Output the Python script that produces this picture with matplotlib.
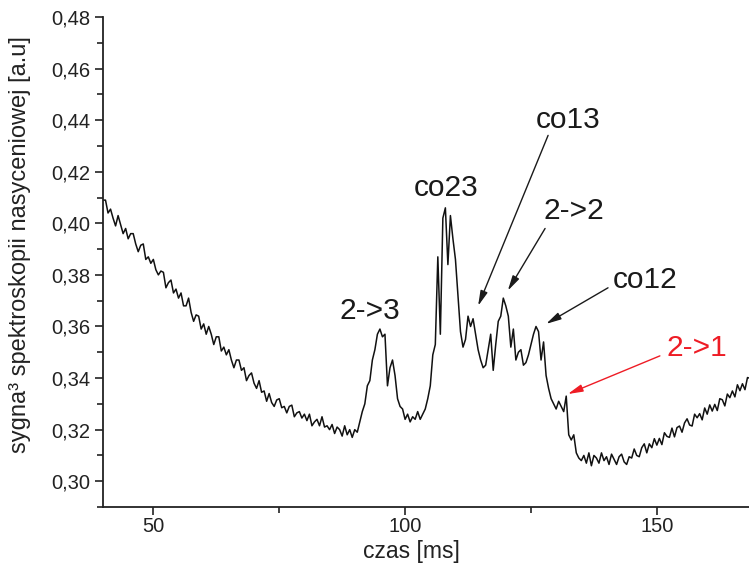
import numpy as np
import matplotlib
matplotlib.use("Agg")
import matplotlib.pyplot as plt

plt.rcParams['font.family'] = ['Liberation Sans', 'DejaVu Sans']

# Saturation spectroscopy trace, sampled every 0.5 ms starting at 40 ms
t_start = 40.0
t_step = 0.5
signal = [
    0.409, 0.409, 0.404, 0.4055, 0.402, 0.399, 0.403, 0.3995, 0.396, 0.398,
    0.394, 0.396, 0.396, 0.392, 0.389, 0.3915, 0.392, 0.386, 0.387, 0.3845,
    0.386, 0.382, 0.380, 0.3815, 0.381, 0.375, 0.377, 0.378, 0.373, 0.3745,
    0.371, 0.373, 0.368, 0.368, 0.371, 0.3655, 0.362, 0.3645, 0.364, 0.359,
    0.361, 0.357, 0.360, 0.357, 0.353, 0.356, 0.356, 0.3505, 0.352, 0.349,
    0.351, 0.347, 0.344, 0.347, 0.347, 0.343, 0.344, 0.339, 0.341, 0.342,
    0.338, 0.336, 0.339, 0.3345, 0.335, 0.331, 0.334, 0.3305, 0.329, 0.3315,
    0.332, 0.3285, 0.329, 0.3265, 0.329, 0.3295, 0.325, 0.3265, 0.327, 0.3245,
    0.326, 0.3235, 0.326, 0.3215, 0.323, 0.324, 0.3215, 0.325, 0.321, 0.3215,
    0.320, 0.322, 0.3185, 0.321, 0.320, 0.3175, 0.3215, 0.318, 0.320, 0.317,
    0.320, 0.319, 0.323, 0.327, 0.330, 0.337, 0.339, 0.347, 0.351, 0.357,
    0.359, 0.356, 0.357, 0.337, 0.344, 0.347, 0.341, 0.332, 0.329, 0.328,
    0.324, 0.326, 0.323, 0.325, 0.324, 0.327, 0.324, 0.326, 0.328, 0.332,
    0.337, 0.349, 0.353, 0.387, 0.357, 0.402, 0.406, 0.384, 0.403, 0.394,
    0.386, 0.372, 0.358, 0.352, 0.355, 0.364, 0.360, 0.363, 0.357, 0.351,
    0.347, 0.344, 0.345, 0.351, 0.357, 0.343, 0.353, 0.362, 0.364, 0.371,
    0.368, 0.364, 0.352, 0.359, 0.347, 0.350, 0.351, 0.345, 0.346, 0.349,
    0.353, 0.357, 0.360, 0.358, 0.347, 0.354, 0.341, 0.336, 0.332, 0.330,
    0.328, 0.331, 0.329, 0.327, 0.333, 0.318, 0.316, 0.318, 0.311, 0.309,
    0.308, 0.310, 0.307, 0.311, 0.306, 0.310, 0.309, 0.307, 0.311, 0.308,
    0.3095, 0.3065, 0.3105, 0.3085, 0.3065, 0.3095, 0.3105, 0.3075, 0.3065, 0.3095,
    0.309, 0.3125, 0.310, 0.3095, 0.313, 0.3145, 0.311, 0.3145, 0.313, 0.3165,
    0.314, 0.3166, 0.3142, 0.3188, 0.3174, 0.317, 0.3206, 0.3172, 0.3208, 0.3214,
    0.319, 0.3226, 0.3242, 0.3218, 0.3214, 0.326, 0.3246, 0.3262, 0.3238, 0.3284,
    0.326, 0.3296, 0.3272, 0.3298, 0.3274, 0.332, 0.3316, 0.3292, 0.3338, 0.3324,
    0.335, 0.3327, 0.3374, 0.3351, 0.3378, 0.3355, 0.3402, 0.3399,
]

x_ticks = [50, 100, 150]
x_tick_labels = ['50', '100', '150']
x_minor = [75, 125]
y_ticks = [0.30, 0.32, 0.34, 0.36, 0.38, 0.40, 0.42, 0.44, 0.46, 0.48]
y_tick_labels = ['0,30', '0,32', '0,34', '0,36', '0,38', '0,40', '0,42', '0,44', '0,46', '0,48']
y_minor = [0.29, 0.31, 0.33, 0.35, 0.37, 0.39, 0.41, 0.43, 0.45, 0.47]

# Transition labels: text, text position, arrow tail/tip (None = plain label), colour
peak_labels = ['2->3', 'co23', 'co13', '2->2', 'co12', '2->1']
label_pos = [(93.1, 0.3661), (108.1, 0.4135), (132.3, 0.4400),
             (133.5, 0.4046), (147.6, 0.3781), (157.9, 0.3517)]
arrow_from = [None, None, (128.4, 0.4341), (127.8, 0.3980),
              (140.3, 0.3750), (150.6, 0.3486)]
arrow_to = [None, None, (114.5, 0.3680), (120.4, 0.3739),
            (128.0, 0.3610), (132.3, 0.3338)]
label_colors = ['#1a1a1a', '#1a1a1a', '#1a1a1a', '#1a1a1a', '#1a1a1a', '#ee1c25']

time = t_start + t_step * np.arange(len(signal))

fig = plt.figure(figsize=(7.49, 5.72), dpi=100)
ax = fig.add_axes([0.1375, 0.1136, 0.8625, 0.8567])

ax.plot(time, signal, color='#111111', lw=1.1)

ax.set_xlim(40, 168.3)
ax.set_ylim(0.29, 0.48)

ax.spines['top'].set_visible(False)
ax.spines['right'].set_visible(False)
for s in ('left', 'bottom'):
    ax.spines[s].set_linewidth(1.3)
    ax.spines[s].set_color('#222222')

ax.set_xticks(x_ticks)
ax.set_xticklabels(x_tick_labels)
ax.set_xticks(x_minor, minor=True)
ax.set_yticks(y_ticks)
ax.set_yticklabels(y_tick_labels)
ax.set_yticks(y_minor, minor=True)
ax.tick_params(which='major', direction='out', length=6, width=1.2,
               color='#222222', labelsize=14.5, labelcolor='#222222', pad=3)
ax.tick_params(axis='x', which='major', pad=1)
ax.tick_params(which='minor', direction='out', length=4, width=1.2, color='#222222')

ax.set_xlabel('czas [ms]', fontsize=16.5, color='#222222')
ax.xaxis.set_label_coords(0.477, -0.068)
ax.set_ylabel('sygna³ spektroskopii nasyceniowej [a.u]', fontsize=17,
              color='#222222')
ax.yaxis.set_label_coords(-0.112, 0.535)

for text, pos, src, dst, col in zip(peak_labels, label_pos, arrow_from,
                                    arrow_to, label_colors):
    ax.text(pos[0], pos[1], text, fontsize=21.5, color=col,
            ha='center', va='center')
    if src is not None:
        ax.annotate('', xy=dst, xytext=src,
                    arrowprops=dict(arrowstyle='-|>,head_length=0.9,head_width=0.22',
                                    color=col, lw=1.0, shrinkA=0, shrinkB=0))

fig.savefig('out.png', dpi=100)
